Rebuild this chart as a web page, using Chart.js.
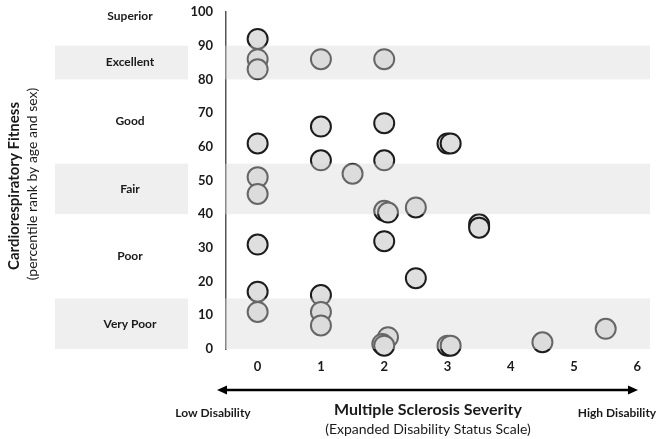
<!DOCTYPE html>
<html>
<head>
<meta charset="utf-8">
<script src="https://cdn.jsdelivr.net/npm/chart.js@4"></script>
<style>
html,body{margin:0;padding:0;background:#fff;}
#wrap{width:662px;height:439px;position:relative;}
</style>
</head>
<body>
<div id="wrap"><canvas id="c" width="662" height="439"></canvas></div>
<script>
// EDSS score (x) and cardiorespiratory fitness percentile (y) for each participant
const edss = [0, 0, 0, 1, 2, 0, 1, 2, 1, 2, 1.5, 0, 0, 2, 2.06, 2.5, 3, 3.05, 3.5, 3.5, 0, 2, 2.5, 0, 1, 0, 1, 1, 2.06, 1.97, 2.0, 3, 3.05, 4.5, 5.5];
const fitness = [92, 86, 83, 86, 86, 61, 66, 67, 56, 56, 52, 51, 46, 41, 40.5, 42, 61, 61, 37, 36, 31, 32, 21, 17, 16, 11, 11, 7, 3.5, 1.5, 1, 1, 1, 2, 6];

const xTicks = [0, 1, 2, 3, 4, 5, 6];
const yTicks = [0, 10, 20, 30, 40, 50, 60, 70, 80, 90, 100];

// Fitness categories (percentile ranges)
const bandNames = ['Very Poor', 'Poor', 'Fair', 'Good', 'Excellent', 'Superior'];
const bandLow   = [0, 15, 40, 55, 80, 90];
const bandHigh  = [15, 40, 55, 80, 90, 100];
const bandShaded = [true, false, true, false, true, false];
const bandLabelAt = [7.5, 27.5, 47.5, 67.5, 85, 98.8];

const pts = edss.map((x, i) => ({x: x, y: fitness[i]}));

const decor = {
  id: 'decor',
  beforeDatasetsDraw(chart) {
    const ctx = chart.ctx, y = chart.scales.y;
    ctx.save();
    for (let i = 0; i < bandNames.length; i++) {
      if (!bandShaded[i]) continue;
      const t = y.getPixelForValue(bandHigh[i]), b = y.getPixelForValue(bandLow[i]);
      ctx.fillStyle = '#efefef';
      ctx.fillRect(55, t, 133, b - t);
    }
    ctx.fillStyle = '#1a1a1a';
    ctx.font = 'bold 12px Lato';
    ctx.textAlign = 'center';
    ctx.textBaseline = 'middle';
    for (let i = 0; i < bandNames.length; i++) {
      ctx.fillText(bandNames[i], 130, y.getPixelForValue(bandLabelAt[i]));
    }
    ctx.restore();
  },
  afterDatasetsDraw(chart) {
    const ctx = chart.ctx, y = chart.scales.y, a = chart.chartArea;
    ctx.save();
    ctx.fillStyle = 'rgba(215,215,215,0.4)';
    for (let i = 0; i < bandNames.length; i++) {
      if (!bandShaded[i]) continue;
      const t = y.getPixelForValue(bandHigh[i]), b = y.getPixelForValue(bandLow[i]);
      ctx.fillRect(a.left - 1, t, a.right - a.left + 1, b - t);
    }
    const ay = 390, x1 = 217, x2 = 638;
    ctx.strokeStyle = '#000';
    ctx.fillStyle = '#000';
    ctx.lineWidth = 2.5;
    ctx.beginPath(); ctx.moveTo(x1 + 6, ay); ctx.lineTo(x2 - 6, ay); ctx.stroke();
    ctx.beginPath(); ctx.moveTo(x1, ay); ctx.lineTo(x1 + 10, ay - 4.5); ctx.lineTo(x1 + 10, ay + 4.5); ctx.closePath(); ctx.fill();
    ctx.beginPath(); ctx.moveTo(x2, ay); ctx.lineTo(x2 - 10, ay - 4.5); ctx.lineTo(x2 - 10, ay + 4.5); ctx.closePath(); ctx.fill();
    ctx.textAlign = 'center';
    ctx.textBaseline = 'middle';
    ctx.fillStyle = '#1a1a1a';
    ctx.font = 'bold 12px Lato';
    ctx.fillText('Low Disability', 213, 413);
    ctx.fillText('High Disability', 617, 413);
    ctx.font = 'bold 16px Lato';
    ctx.fillText('Multiple Sclerosis Severity', 428, 410);
    ctx.font = '14px Lato';
    ctx.fillText('(Expanded Disability Status Scale)', 428, 429);
    ctx.save();
    ctx.translate(14, 186);
    ctx.rotate(-Math.PI / 2);
    ctx.font = 'bold 15px Lato';
    ctx.fillText('Cardiorespiratory Fitness', 0, 0);
    ctx.restore();
    ctx.save();
    ctx.translate(32, 184);
    ctx.rotate(-Math.PI / 2);
    ctx.font = '14px Lato';
    ctx.fillText('(percentile rank by age and sex)', 0, 0);
    ctx.restore();
    ctx.restore();
  }
};

new Chart(document.getElementById('c'), {
  type: 'scatter',
  data: {
    datasets: [{
      data: pts,
      backgroundColor: '#dfdfdf',
      borderColor: '#1c1c1c',
      borderWidth: 2,
      pointRadius: 10,
      pointHoverRadius: 10,
      clip: false
    }]
  },
  options: {
    responsive: false,
    devicePixelRatio: 1,
    animation: false,
    events: [],
    layout: {padding: {top: 2, right: 12, left: 0, bottom: 0}},
    plugins: {legend: {display: false}, tooltip: {enabled: false}},
    scales: {
      x: {
        type: 'linear',
        min: -0.5,
        max: 6.2,
        afterBuildTicks: s => { s.ticks = xTicks.map(v => ({value: v})); },
        afterFit: s => { s.height = 90; s.paddingLeft = 0; s.paddingRight = 0; },
        grid: {display: false, drawTicks: false},
        border: {display: false},
        ticks: {padding: 10, color: '#1a1a1a', font: {family: 'Lato', size: 13, weight: 'bold'}}
      },
      y: {
        type: 'linear',
        min: 0,
        max: 100,
        afterBuildTicks: s => { s.ticks = yTicks.map(v => ({value: v})); },
        afterFit: s => { s.width = 226; s.paddingTop = 0; s.paddingBottom = 0; },
        grid: {display: false, drawTicks: false},
        border: {display: true, color: '#555', width: 1.5},
        ticks: {padding: 13, color: '#1a1a1a', font: {family: 'Lato', size: 13, weight: 'bold', lineHeight: 1}}
      }
    }
  },
  plugins: [decor]
});
</script>
</body>
</html>
